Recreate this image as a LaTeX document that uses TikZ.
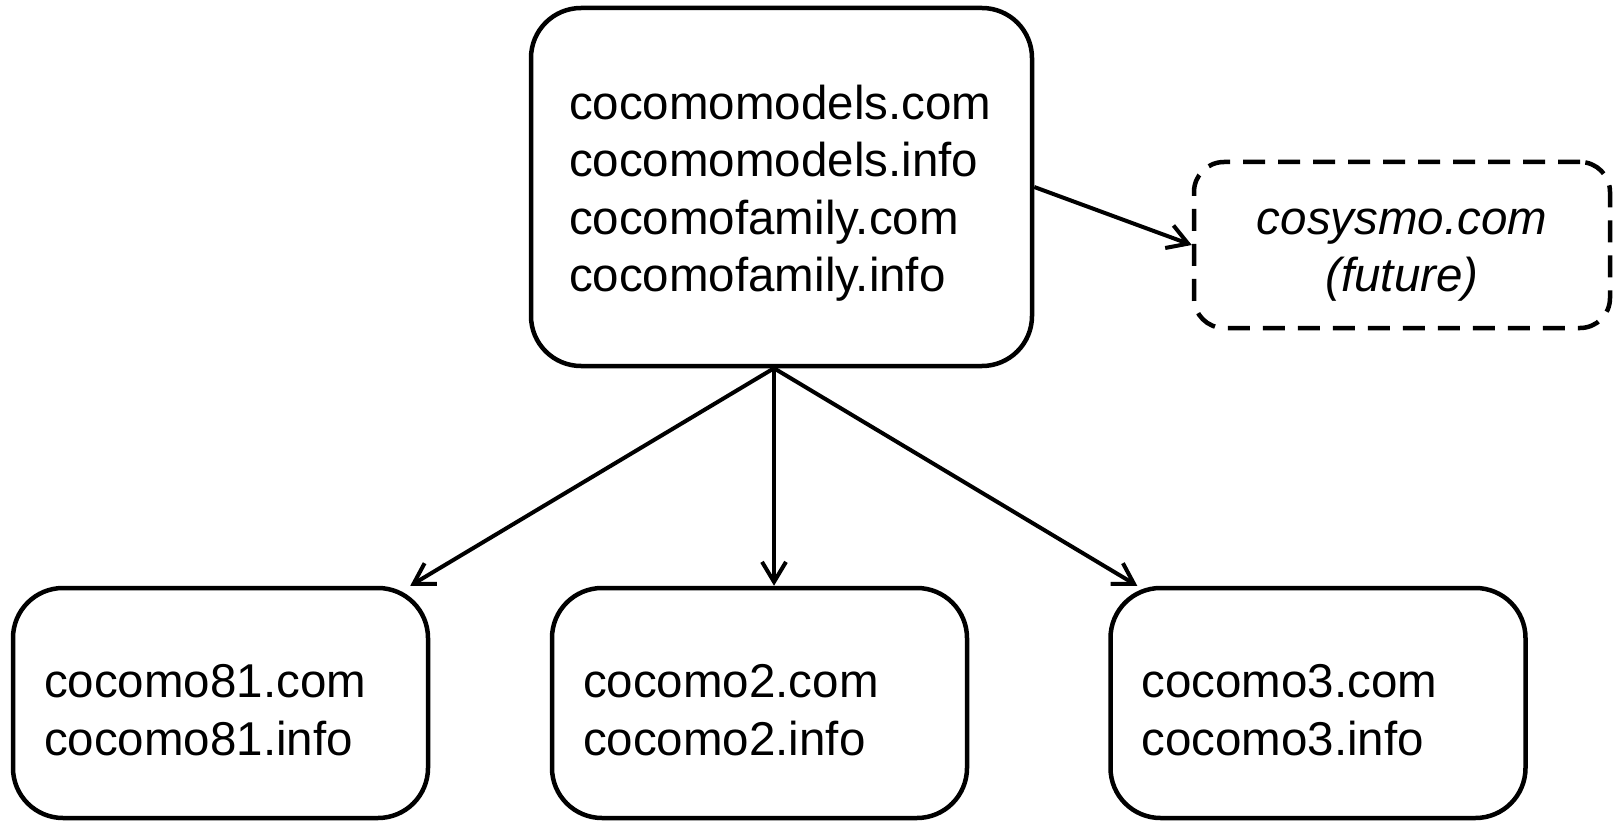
\documentclass[tikz,border=0pt]{standalone}
\usepackage{fontspec}
\setmainfont{Liberation Sans}
\usetikzlibrary{arrows.meta,calc}
\newcommand{\upstrut}{\rule{0pt}{46pt}}
\begin{document}
\begin{tikzpicture}[x=1pt,y=-1pt,
  box/.style={draw,line width=4.5pt,rounded corners=50pt,align=left,font=\fontsize{47.5}{57.5}\selectfont,execute at begin node=\rule{0pt}{47pt}},
  futbox/.style={draw,line width=4.5pt,dash pattern=on 22pt off 13pt,rounded corners=30pt,align=center,font=\fontsize{47.5}{57.5}\selectfont\itshape},
  conn/.style={line width=4pt,-{Straight Barb[length=20pt,width=24pt]}}]
\useasboundingbox (0,0) rectangle (1618,821);
\node[box, minimum width=501pt, minimum height=358pt, text width=425pt, inner xsep=38pt] (top) at (781.5,187)
  {cocomomodels.com\\cocomomodels.info\\cocomofamily.com\\cocomofamily.info};
\node[futbox, minimum width=416pt, minimum height=166pt] (fut) at (1402,245) {\upstrut cosysmo.com\\(future)};
\node[box, minimum width=415pt, minimum height=230pt, text width=353pt, inner xsep=31pt] (b1) at (220.5,703)
  {cocomo81.com\\cocomo81.info};
\node[box, minimum width=415pt, minimum height=230pt, text width=353pt, inner xsep=31pt] (b2) at (759.5,703)
  {cocomo2.com\\cocomo2.info};
\node[box, minimum width=415pt, minimum height=230pt, text width=353pt, inner xsep=31pt] (b3) at (1318,703)
  {cocomo3.com\\cocomo3.info};
\coordinate (fork) at ($(top.south)+(-7.5,0)$);
\draw[conn] (fork) -- ($(b1.north east)+(-20,0)$);
\draw[conn] (fork) -- (fork |- b2.north);
\draw[conn] (fork) -- ($(b3.north west)+(29,0)$);
\draw[conn] (top.east) -- (fut.west);
\end{tikzpicture}
\end{document}
